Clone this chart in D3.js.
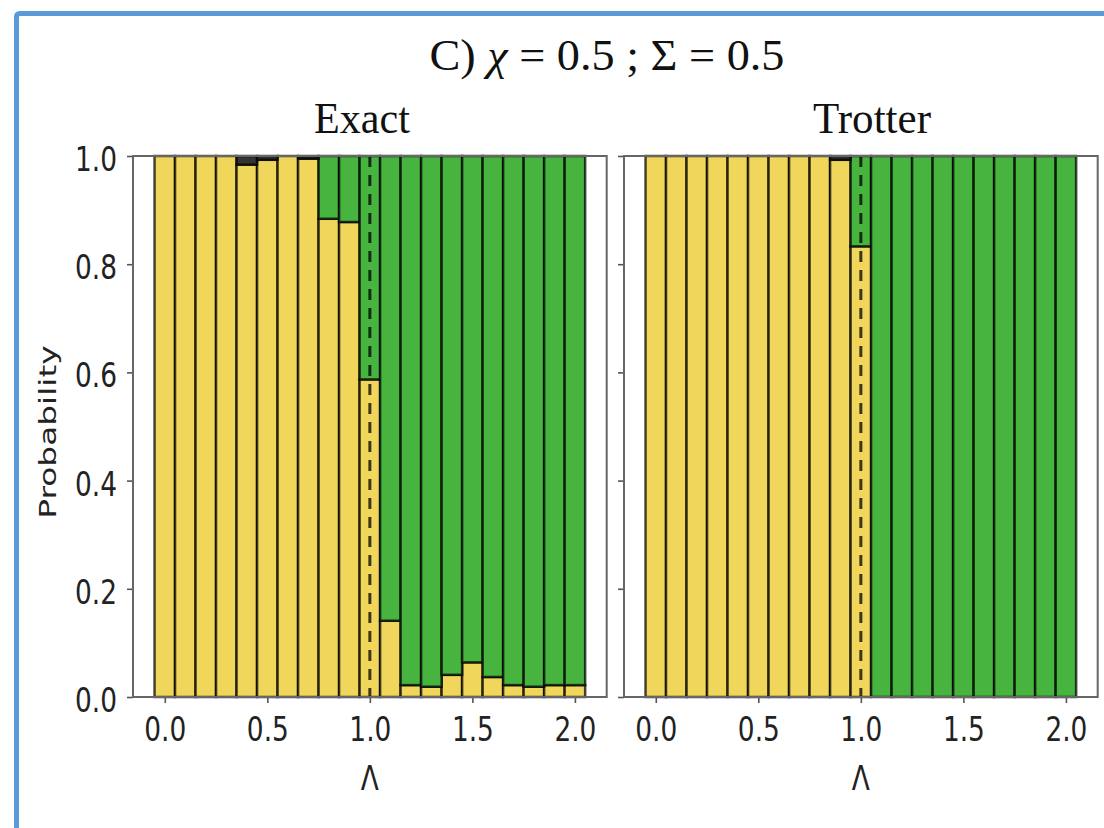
<!DOCTYPE html>
<html>
<head>
<meta charset="utf-8">
<script src="https://cdn.jsdelivr.net/npm/d3@7"></script>
<style>
  body { margin: 0; background: #fff; }
  svg { display: block; }
</style>
</head>
<body>
<svg id="fig" width="1104" height="828"></svg>
<script>
// Coupling strength values (one bar per value)
const lambdas = [0.0, 0.1, 0.2, 0.3, 0.4, 0.5, 0.6, 0.7, 0.8, 0.9, 1.0,
                 1.1, 1.2, 1.3, 1.4, 1.5, 1.6, 1.7, 1.8, 1.9, 2.0];

// Exact evolution: probability of each outcome
const exactLow   = [1.000, 1.000, 1.000, 1.000, 0.984, 0.993, 1.000, 0.995, 0.884, 0.878, 0.587,
                    0.141, 0.022, 0.019, 0.041, 0.064, 0.037, 0.022, 0.019, 0.022, 0.022];
const exactHigh  = [0.000, 0.000, 0.000, 0.000, 0.000, 0.000, 0.000, 0.000, 0.116, 0.122, 0.413,
                    0.859, 0.978, 0.981, 0.959, 0.936, 0.963, 0.978, 0.981, 0.978, 0.978];
const exactOther = [0.000, 0.000, 0.000, 0.000, 0.016, 0.007, 0.000, 0.005, 0.000, 0.000, 0.000,
                    0.000, 0.000, 0.000, 0.000, 0.000, 0.000, 0.000, 0.000, 0.000, 0.000];

// Trotterized evolution
const trotterLow   = [1.000, 1.000, 1.000, 1.000, 1.000, 1.000, 1.000, 1.000, 1.000, 0.993, 0.833,
                      0.000, 0.000, 0.000, 0.000, 0.000, 0.000, 0.000, 0.000, 0.000, 0.000];
const trotterHigh  = [0.000, 0.000, 0.000, 0.000, 0.000, 0.000, 0.000, 0.000, 0.000, 0.000, 0.167,
                      1.000, 1.000, 1.000, 1.000, 1.000, 1.000, 1.000, 1.000, 1.000, 1.000];
const trotterOther = [0.000, 0.000, 0.000, 0.000, 0.000, 0.000, 0.000, 0.000, 0.000, 0.007, 0.000,
                      0.000, 0.000, 0.000, 0.000, 0.000, 0.000, 0.000, 0.000, 0.000, 0.000];

const criticalLambda = 1.0;
const xTickValues = [0.0, 0.5, 1.0, 1.5, 2.0];
const yTickValues = [0.0, 0.2, 0.4, 0.6, 0.8, 1.0];
const panelTitles = ["Exact", "Trotter"];
const xLabel = "\u039B";
const yLabel = "Probability";

const stateKeys = ["low", "high", "other"];
const stateColors = { low: "#f0d65b", high: "#46b43f", other: "#343434" };

const svg = d3.select("#fig");
const sx = 0.8;           // horizontal squeeze of sans labels
const barHalf = 0.05;

// Frame around the figure
svg.append("path")
  .attr("d", "M16.5,840 L16.5,17 Q16.5,13.5 20,13.5 L1120,13.5")
  .attr("fill", "none")
  .attr("stroke", "#5b9bd5")
  .attr("stroke-width", 5);

// Figure title
const title = svg.append("text")
  .attr("x", 607).attr("y", 70)
  .attr("text-anchor", "middle")
  .attr("font-family", "Liberation Serif, serif")
  .attr("font-size", 44)
  .attr("fill", "#111")
  .attr("textLength", 355)
  .attr("lengthAdjust", "spacingAndGlyphs");
title.append("tspan").text("C) ");
title.append("tspan").attr("font-style", "italic").text("\u03C7");
title.append("tspan").text(" = 0.5 ; \u03A3 = 0.5");

const yTop = 156, yBottom = 697;
const y = d3.scaleLinear().domain([0, 1]).range([yBottom, yTop]);

const panels = [
  { title: panelTitles[0], low: exactLow, high: exactHigh, other: exactOther,
    left: 133, right: 606.7, showY: true, titleX: 362, titleLen: 96 },
  { title: panelTitles[1], low: trotterLow, high: trotterHigh, other: trotterOther,
    left: 624, right: 1097.7, showY: false, titleX: 872, titleLen: 118 }
];

panels.forEach(p => {
  const x = d3.scaleLinear().domain([-0.155, 2.155]).range([p.left, p.right]);
  const g = svg.append("g");

  const rows = lambdas.map((l, i) => ({ lambda: l, low: p.low[i], high: p.high[i], other: p.other[i] }));
  const stacked = d3.stack().keys(stateKeys)(rows);

  g.selectAll("g.layer").data(stacked).join("g")
    .attr("class", "layer")
    .attr("fill", d => stateColors[d.key])
    .selectAll("rect")
    .data(d => d.filter(s => s[1] - s[0] > 0))
    .join("rect")
      .attr("x", d => x(d.data.lambda - barHalf))
      .attr("width", d => x(d.data.lambda + barHalf) - x(d.data.lambda - barHalf))
      .attr("y", d => y(d[1]))
      .attr("height", d => y(d[0]) - y(d[1]))
      .attr("stroke", "#000")
      .attr("stroke-opacity", 0.72)
      .attr("stroke-width", 2.5);

  // Critical coupling marker
  g.append("line")
    .attr("x1", x(criticalLambda)).attr("x2", x(criticalLambda))
    .attr("y1", y(1)).attr("y2", y(0))
    .attr("stroke", "#000")
    .attr("stroke-opacity", 0.75)
    .attr("stroke-width", 3)
    .attr("stroke-dasharray", "11,8");

  // Axes
  const xAxis = g.append("g")
    .attr("transform", `translate(0,${yBottom})`)
    .call(d3.axisBottom(x).tickValues(xTickValues).tickFormat(d3.format(".1f")).tickSize(6));
  const yAxis = g.append("g")
    .attr("transform", `translate(${p.left},0)`)
    .call(d3.axisLeft(y).tickValues(yTickValues)
      .tickFormat(p.showY ? d3.format(".1f") : () => "").tickSize(6));

  [xAxis, yAxis].forEach(a => {
    a.select(".domain").remove();
    a.selectAll(".tick line").attr("stroke", "#555").attr("stroke-width", 1.6);
    a.selectAll(".tick text")
      .attr("font-family", "DejaVu Sans, sans-serif")
      .attr("font-size", 33)
      .attr("fill", "#222")
      .attr("x", null).attr("y", null).attr("dy", null);
  });
  xAxis.selectAll(".tick text").attr("transform", `translate(0,${741 - yBottom}) scale(${sx},1)`);
  yAxis.selectAll(".tick text").attr("transform", `translate(-16,14.5) scale(${sx},1)`);

  // Spines
  g.append("rect")
    .attr("x", p.left).attr("y", yTop)
    .attr("width", p.right - p.left).attr("height", yBottom - yTop)
    .attr("fill", "none")
    .attr("stroke", "#666")
    .attr("stroke-width", 2);

  // Panel title
  g.append("text")
    .attr("x", p.titleX).attr("y", 133)
    .attr("text-anchor", "middle")
    .attr("font-family", "Liberation Serif, serif")
    .attr("font-size", 44)
    .attr("fill", "#111")
    .attr("textLength", p.titleLen)
    .attr("lengthAdjust", "spacingAndGlyphs")
    .text(p.title);

  // X axis label
  g.append("text")
    .attr("transform", `translate(${(p.left + p.right) / 2},790) scale(${sx},1)`)
    .attr("text-anchor", "middle")
    .attr("font-family", "DejaVu Sans, sans-serif")
    .attr("font-size", 33)
    .attr("fill", "#222")
    .text(xLabel);
});

// Y axis label
svg.append("text")
  .attr("transform", "translate(56,432) scale(0.72,1) rotate(-90)")
  .attr("text-anchor", "middle")
  .attr("font-family", "DejaVu Sans, sans-serif")
  .attr("font-size", 32.8)
  .attr("fill", "#222")
  .text(yLabel);
</script>
</body>
</html>
